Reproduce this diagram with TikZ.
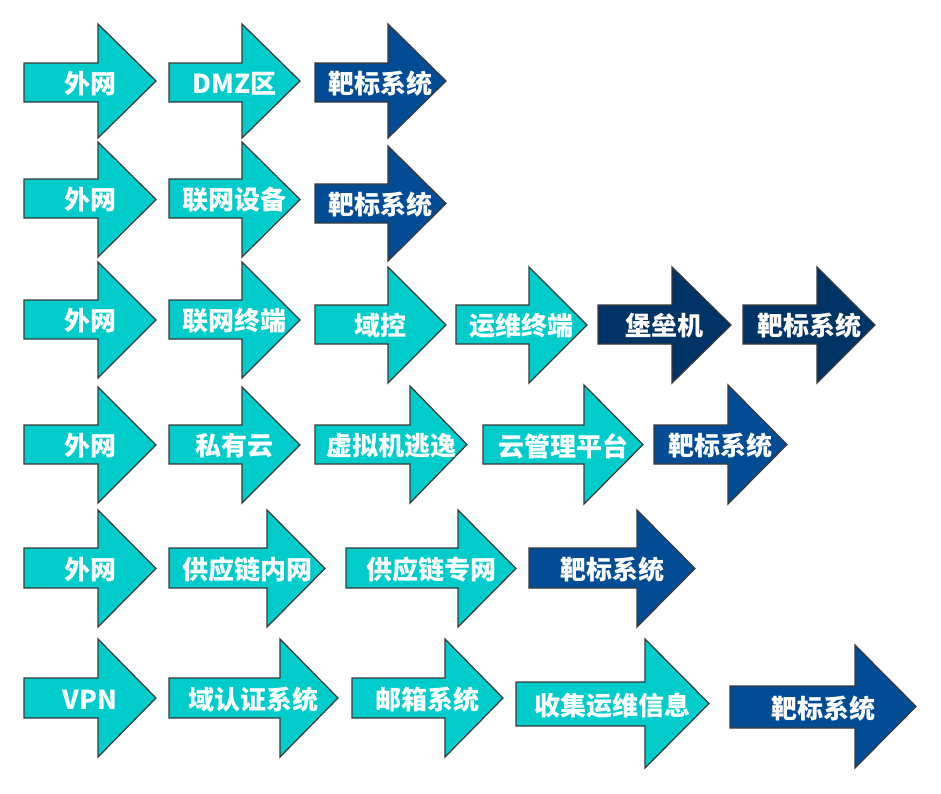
\documentclass[tikz,border=0pt]{standalone}
\usepackage{fontspec}
\newfontfamily\cjk{Noto Sans CJK SC}
\definecolor{tealfill}{RGB}{0,204,204}
\definecolor{bluefill}{RGB}{2,76,150}
\definecolor{navyfill}{RGB}{0,51,102}
\definecolor{edgegray}{RGB}{58,58,58}
\newcount\arrowidx
\tikzset{
  arrowline/.style={draw=edgegray, line width=0.95pt, line join=miter},
  arrowlabel/.style={text=white, font=\cjk\bfseries\fontsize{19.5}{21}\selectfont, inner sep=0pt},
}
% #1 left #2 neck #3 tip #4 head top #5 shaft top #6 shaft bottom #7 head bottom #8 fill #9 text
\newcommand\flowarrow[9]{%
  \global\advance\arrowidx by 1
  \filldraw[arrowline, fill=#8] (#1,#5) -- (#2,#5) -- (#2,#4) -- (#3,{(#4+#7)/2}) -- (#2,#7) -- (#2,#6) -- (#1,#6) -- cycle;
  \node[arrowlabel] (a\the\arrowidx) at ({(#1+#3)/2},{(#5+#6)/2+1.5}) {#9};
}
\begin{document}
\begin{tikzpicture}[x=0.75pt, y=-0.75pt]
\useasboundingbox (0,0) rectangle (941,793);
% Row 1
\flowarrow{24}{98}{156}{24}{63}{102}{138}{tealfill}{外网}
\flowarrow{169}{242}{300}{24}{63}{102}{138}{tealfill}{DMZ区}
\flowarrow{315}{388}{446}{24}{63}{102}{138}{bluefill}{靶标系统}
% Row 2
\flowarrow{24}{98}{156}{142}{179}{218}{257}{tealfill}{外网}
\flowarrow{169}{242}{300}{142}{179}{218}{257}{tealfill}{联网设备}
\flowarrow{315}{388}{446}{146}{184}{223}{261}{bluefill}{靶标系统}
% Row 3
\flowarrow{24}{98}{156}{262}{300}{339}{378}{tealfill}{外网}
\flowarrow{169}{242}{300}{262}{300}{339}{378}{tealfill}{联网终端}
\flowarrow{315}{388}{446}{267}{305}{344}{383}{tealfill}{域控}
\flowarrow{456}{529}{587}{267}{305}{344}{383}{tealfill}{运维终端}
\flowarrow{598}{672}{731}{267}{305}{344}{383}{navyfill}{堡垒机}
\flowarrow{743}{817}{875}{267}{305}{344}{383}{navyfill}{靶标系统}
% Row 4
\flowarrow{24}{98}{156}{387}{425}{464}{503}{tealfill}{外网}
\flowarrow{169}{242}{300}{387}{425}{464}{503}{tealfill}{私有云}
\flowarrow{315}{410}{467}{386}{425}{464}{503}{tealfill}{虚拟机逃逸}
\flowarrow{483}{584}{643}{385}{425}{464}{504}{tealfill}{云管理平台}
\flowarrow{654}{728}{787}{385}{425}{464}{504}{bluefill}{靶标系统}
% Row 5
\flowarrow{24}{98}{156}{510}{548}{588}{627}{tealfill}{外网}
\flowarrow{169}{267}{325}{510}{548}{588}{627}{tealfill}{供应链内网}
\flowarrow{346}{458}{516}{510}{548}{588}{627}{tealfill}{供应链专网}
\flowarrow{529}{637}{695}{510}{548}{588}{627}{bluefill}{靶标系统}
% Row 6
\flowarrow{24}{98}{156}{639}{678}{718}{757}{tealfill}{VPN}
\flowarrow{169}{280}{338}{639}{678}{718}{757}{tealfill}{域认证系统}
\flowarrow{352}{445}{503}{639}{678}{718}{757}{tealfill}{邮箱系统}
\flowarrow{516}{645}{709}{639}{682}{726}{768}{tealfill}{收集运维信息}
\flowarrow{730}{855}{916}{645}{686}{728}{768}{bluefill}{靶标系统}
\end{tikzpicture}
\end{document}
